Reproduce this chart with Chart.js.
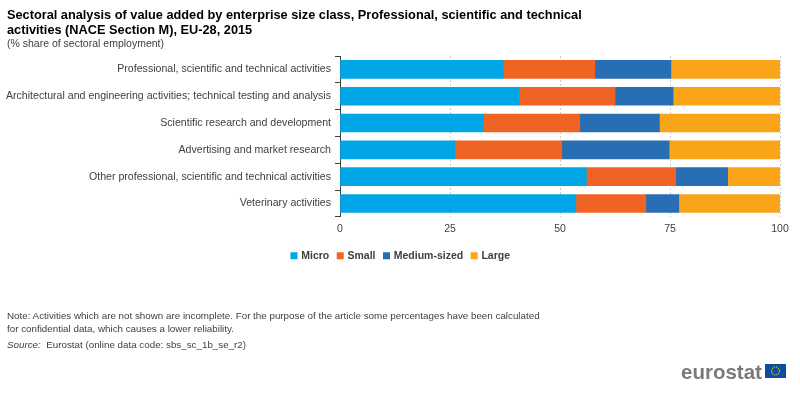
<!DOCTYPE html>
<html>
<head>
<meta charset="utf-8">
<script src="https://cdn.jsdelivr.net/npm/chart.js@4"></script>
<style>
    html, body { margin: 0; padding: 0; background: #fff; }
    body { width: 800px; height: 393px; position: relative; overflow: hidden; font-family: "Liberation Sans", Arial, sans-serif; }
    canvas { position: absolute; left: 0; top: 0; }
    .txt { position: absolute; left: 7px; white-space: nowrap; color: #404040; font-size: 9.8px; line-height: 13px; }
    #title { top: 8px; color: #000; font-size: 12.75px; font-weight: bold; line-height: 14.5px; }
    #unit { top: 37px; font-size: 10.5px; }
    #note { top: 309px; line-height: 13px; }
    #source { top: 338px; }
    #logo { position: absolute; left: 681px; top: 361px; color: #7a7a7a; font-size: 20.5px; font-weight: bold; line-height: 22px; }
    #flag { position: absolute; left: 765px; top: 364px; }
</style>
</head>
<body>
<canvas id="chart" width="800" height="393"></canvas>
<div class="txt" id="title">Sectoral analysis of value added by enterprise size class, Professional, scientific and technical<br>activities (NACE Section M), EU-28, 2015</div>
<div class="txt" id="unit">(% share of sectoral employment)</div>
<div class="txt" id="note">Note: Activities which are not shown are incomplete. For the purpose of the article some percentages have been calculated<br>for confidential data, which causes a lower reliability.</div>
<div class="txt" id="source"><i>Source:</i>&nbsp; Eurostat (online data code: sbs_sc_1b_se_r2)</div>
<div id="logo">eurostat</div>
<svg id="flag" width="21" height="14">
    <rect width="21" height="14" fill="#0f4da0"></rect>
    <circle cx="10.5" cy="7" r="4" fill="none" stroke="#f5d800" stroke-width="1.2" stroke-dasharray="1 1.1"></circle>
</svg>
<script>
var categories = [
    'Professional, scientific and technical activities',
    'Architectural and engineering activities; technical testing and analysis',
    'Scientific research and development',
    'Advertising and market research',
    'Other professional, scientific and technical activities',
    'Veterinary activities'
];
var micro = [37.1, 40.7, 32.6, 26.1, 56.0, 53.6];
var small = [20.8, 21.8, 21.9, 24.3, 20.3, 15.9];
var medium = [17.3, 13.2, 18.1, 24.4, 11.8, 7.5];
var large = [24.8, 24.3, 27.4, 25.2, 11.9, 23.0];
var xTicks = [0, 25, 50, 75, 100];

var textColor = '#404040';

// legend sits centred on the page, not on the space left of the right margin
var centerLegend = {
    id: 'centerLegend',
    beforeDraw: function (chart) {
        chart.legend.left = 2;
        chart.legend.right = 800;
    }
};

var ctx = document.getElementById('chart').getContext('2d');
var chart = new Chart(ctx, {
    type: 'bar',
    plugins: [centerLegend],
    data: {
        labels: categories,
        datasets: [
            { label: 'Micro', data: micro, backgroundColor: '#00a6e6' },
            { label: 'Small', data: small, backgroundColor: '#f06423' },
            { label: 'Medium-sized', data: medium, backgroundColor: '#286eb4' },
            { label: 'Large', data: large, backgroundColor: '#faa519' }
        ]
    },
    options: {
        indexAxis: 'y',
        responsive: false,
        animation: false,
        barThickness: 18,
        layout: { padding: { left: 0, right: 20, top: 56, bottom: 122 } },
        scales: {
            x: {
                stacked: true,
                min: 0,
                max: 100,
                afterBuildTicks: function (scale) {
                    scale.ticks = xTicks.map(function (v) { return { value: v }; });
                },
                border: { display: false, dash: [2, 2] },
                grid: { color: '#cccccc', drawTicks: false },
                ticks: { color: textColor, font: { family: 'Liberation Sans', size: 10.5 }, padding: 6, maxRotation: 0 }
            },
            y: {
                stacked: true,
                afterFit: function (scale) { scale.width = 340; },
                border: { color: '#404040' },
                grid: { drawOnChartArea: false, color: '#404040', tickLength: 5 },
                ticks: { color: textColor, font: { family: 'Liberation Sans', size: 10.6 }, padding: 4, autoSkip: false }
            }
        },
        plugins: {
            tooltip: { enabled: false },
            legend: {
                position: 'bottom',
                labels: {
                    color: textColor,
                    font: { family: 'Liberation Sans', size: 10.5, weight: 'bold' },
                    usePointStyle: true,
                    pointStyle: 'rect',
                    boxWidth: 4,
                    boxHeight: 7,
                    padding: 9
                }
            }
        }
    }
});
</script>
</body>
</html>
